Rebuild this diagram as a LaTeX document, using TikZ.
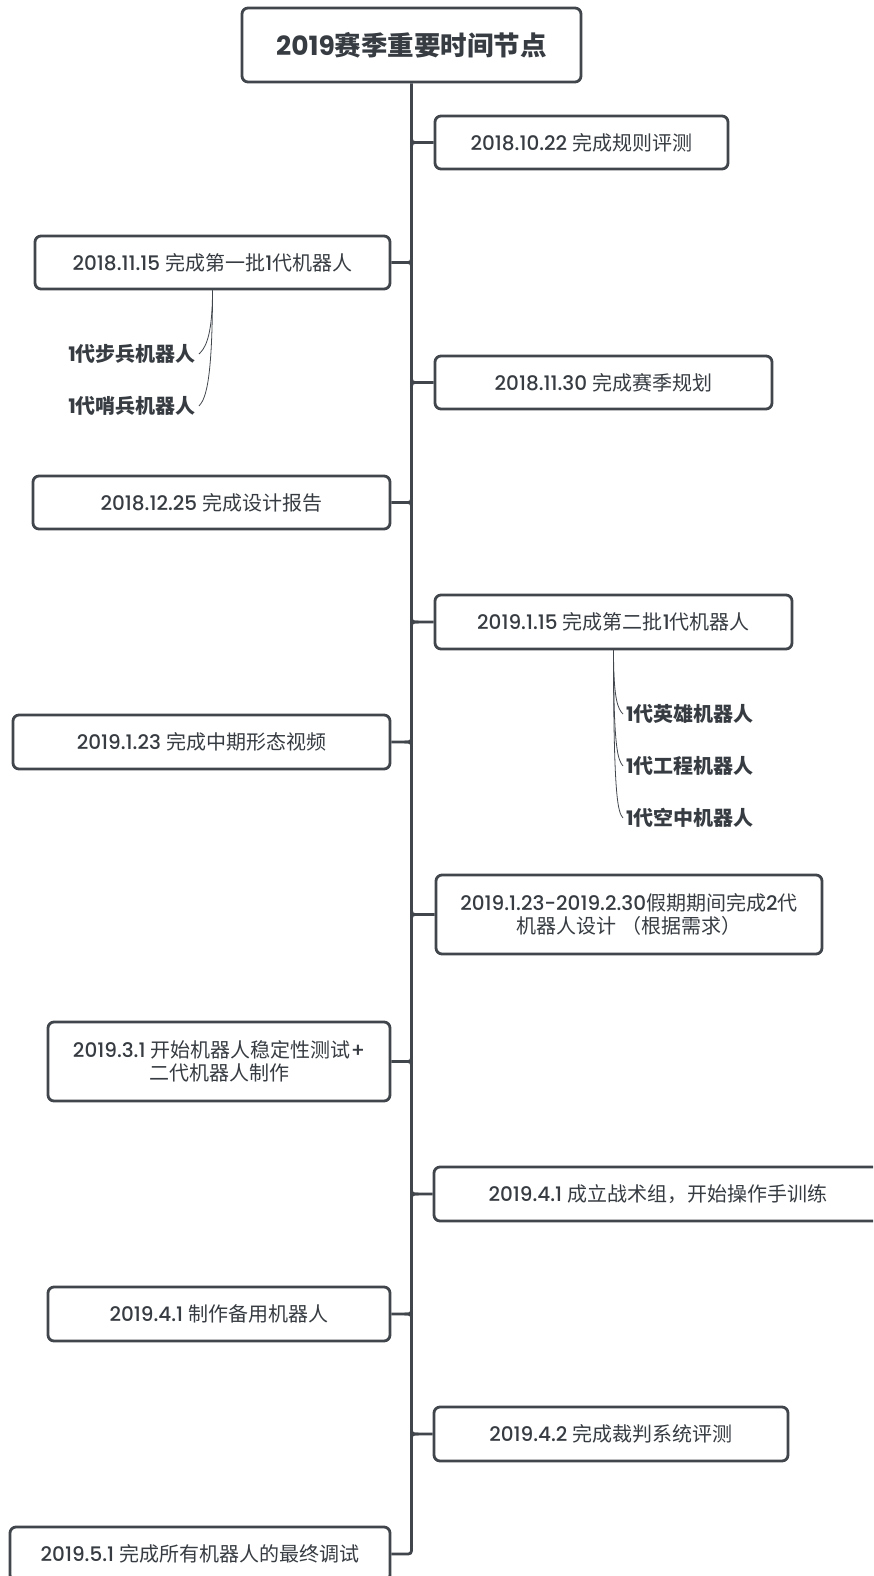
\documentclass[tikz,border=0pt]{standalone}
\usepackage{fontspec}
\setmainfont{Poppins}[UprightFont={* Medium}, BoldFont={* Bold}]
\newfontfamily\cjk{Noto Sans CJK SC}
\usetikzlibrary{calc}
\definecolor{ln}{HTML}{41464C}
\definecolor{tx}{HTML}{373C42}
\tikzset{
  box/.style={draw=ln, line width=2.8pt, rounded corners=6pt, fill=white, text=tx,
    align=center, inner sep=0pt, font=\fontsize{20}{23}\selectfont},
  subitem/.style={text=tx, inner sep=3pt, font=\fontsize{20}{23}\selectfont\bfseries},
  conn/.style={draw=ln, line width=2.8pt},
  thinconn/.style={draw=ln, line width=0.8pt},
}
\newcommand\rbranch[1]{%
  \draw[conn] ($(#1.west -| sp)+(0,-7)$) .. controls (#1.west -| sp) .. ($(#1.west -| sp)+(7,0)$) -- (#1.west);
  \draw[conn] ($(#1.west -| sp)+(0,7)$) .. controls (#1.west -| sp) .. ($(#1.west -| sp)+(7,0)$);}
\newcommand\lbranch[1]{%
  \draw[conn] ($(#1.east -| sp)+(0,-7)$) .. controls (#1.east -| sp) .. ($(#1.east -| sp)+(-7,0)$) -- (#1.east);
  \draw[conn] ($(#1.east -| sp)+(0,7)$) .. controls (#1.east -| sp) .. ($(#1.east -| sp)+(-7,0)$);}
\begin{document}
\begin{tikzpicture}[x=1pt, y=-1pt, line join=round]
\useasboundingbox (0,0) rectangle (873,1576);
\fill[white] (0,0) rectangle (873,1576);
\clip (0,0) rectangle (873,1576);

\node[box, minimum width=339, minimum height=74, font=\fontsize{26.5}{30}\selectfont\bfseries] (T) at (411.5,45) {2019{\cjk 赛季重要时间节点}};
\coordinate (sp) at (T.south);

\node[box, minimum width=293, minimum height=53] (b1) at (581.5,142.5) {2018.10.22 {\cjk 完成规则评测}};
\node[box, minimum width=355, minimum height=53] (b2) at (212.5,262.5) {2018.11.15 {\cjk 完成第一批}1{\cjk 代机器人}};
\node[box, minimum width=337, minimum height=53] (b3) at (603.5,382.5) {2018.11.30 {\cjk 完成赛季规划}};
\node[box, minimum width=357, minimum height=53] (b4) at (211.5,502.5) {2018.12.25 {\cjk 完成设计报告}};
\node[box, minimum width=357, minimum height=54] (b5) at (613.5,622) {2019.1.15 {\cjk 完成第二批}1{\cjk 代机器人}};
\node[box, minimum width=377, minimum height=54] (b6) at (201.5,742) {2019.1.23 {\cjk 完成中期形态视频}};
\node[box, minimum width=386, minimum height=79] (b7) at (629,914.5) {2019.1.23-2019.2.30{\cjk 假期期间完成}2{\cjk 代}\\{\cjk 机器人设计 （根据需求）}};
\node[box, minimum width=342, minimum height=79] (b8) at (219,1061.5) {2019.3.1 {\cjk 开始机器人稳定性测试}+\\{\cjk 二代机器人制作}};
\node[box, minimum width=448, minimum height=54] (b9) at (658,1194) {2019.4.1 {\cjk 成立战术组，开始操作手训练}};
\node[box, minimum width=342, minimum height=54] (b10) at (219,1314) {2019.4.1 {\cjk 制作备用机器人}};
\node[box, minimum width=354, minimum height=54] (b11) at (611,1434) {2019.4.2 {\cjk 完成裁判系统评测}};
\node[box, minimum width=380, minimum height=54] (b12) at (200,1554) {2019.5.1 {\cjk 完成所有机器人的最终调试}};

% spine
\draw[conn] (T.south) -- ($(b12.east -| sp)+(0,-7)$) .. controls (b12.east -| sp) .. ($(b12.east -| sp)+(-7,0)$) -- (b12.east);
\rbranch{b1}
\lbranch{b2}
\rbranch{b3}
\lbranch{b4}
\rbranch{b5}
\lbranch{b6}
\rbranch{b7}
\lbranch{b8}
\rbranch{b9}
\lbranch{b10}
\rbranch{b11}

% sub items
\node[subitem, anchor=east] (c1) at (199,354) {1{\cjk 代步兵机器人}};
\node[subitem, anchor=east] (c2) at (199,406) {1{\cjk 代哨兵机器人}};
\node[subitem, anchor=west] (c3) at (623,714) {1{\cjk 代英雄机器人}};
\node[subitem, anchor=west] (c4) at (623,766) {1{\cjk 代工程机器人}};
\node[subitem, anchor=west] (c5) at (623,818) {1{\cjk 代空中机器人}};

\draw[thinconn] (b2.south) .. controls +(0,50) and +(5,-5) .. (c1.east);
\draw[thinconn] (b2.south) .. controls +(0,100) and +(5,-6) .. (c2.east);
\draw[thinconn] (b5.south) .. controls +(0,50) and +(-5,-5) .. (c3.west);
\draw[thinconn] (b5.south) .. controls +(0,100) and +(-5,-6) .. (c4.west);
\draw[thinconn] (b5.south) .. controls +(0,150) and +(-5,-6) .. (c5.west);
\end{tikzpicture}
\end{document}
